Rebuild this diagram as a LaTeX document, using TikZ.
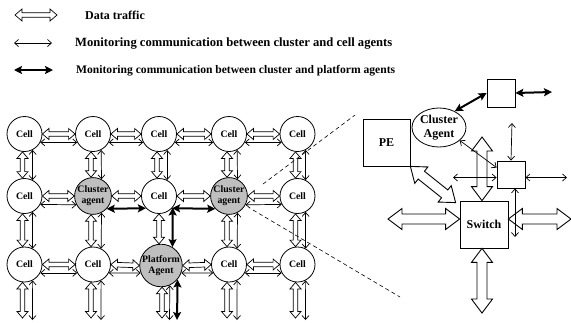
\documentclass[tikz,border=0pt]{standalone}
\usepackage{fontspec}
\setmainfont{Liberation Serif}
\usetikzlibrary{arrows.meta,calc,shapes.geometric}
\definecolor{agentgray}{gray}{0.75}
\newcommand\gridfont{\bfseries\fontsize{9.8}{11}\selectfont}
\newcommand\detfont{\bfseries\fontsize{12}{14.3}\selectfont}
% hollow (data traffic) arrow: [style] A B halfshaft halfhead headlength
\newcommand\holarrow[6][holg]{%
  \coordinate (hA) at (#2);
  \coordinate (hB) at (#3);
  \draw[#1] (hA)
    -- ($(hA)!#6!(hB)!#5!90:(hB)$)
    -- ($(hA)!#6!(hB)!#4!90:(hB)$)
    -- ($(hB)!#6!(hA)!#4!-90:(hA)$)
    -- ($(hB)!#6!(hA)!#5!-90:(hA)$)
    -- (hB)
    -- ($(hB)!#6!(hA)!#5!90:(hA)$)
    -- ($(hB)!#6!(hA)!#4!90:(hA)$)
    -- ($(hA)!#6!(hB)!#4!-90:(hB)$)
    -- ($(hA)!#6!(hB)!#5!-90:(hB)$)
    -- cycle;
}
\newcommand\gh[2]{\holarrow{#1.east}{#2.west}{2.3pt}{5.5pt}{6.5pt}}
\newcommand\gv[2]{\holarrow{$(#1.south)+(-2,0)$}{$(#2.north)+(-2,0)$}{2.3pt}{5.5pt}{6.5pt}}
\begin{document}
\begin{tikzpicture}[x=1pt,y=-1pt,
  cell/.style={circle, draw, line width=0.8pt, fill=white, minimum size=35pt,
    inner sep=0pt, font=\gridfont, align=center},
  agent/.style={cell, fill=agentgray},
  plat/.style={agent, minimum size=42pt},
  holg/.style={draw, line width=0.7pt, fill=white, line join=miter},
  holbig/.style={draw, line width=0.9pt, fill=white, line join=miter},
  thinarr/.style={line width=0.7pt,
    {Straight Barb[length=4pt,width=7pt]}-{Straight Barb[length=4pt,width=7pt]}},
  boldarr/.style={line width=2pt,
    {Stealth[length=8pt,width=8pt,inset=1.5pt]}-{Stealth[length=8pt,width=8pt,inset=1.5pt]}},
  lbl/.style={anchor=west, inner sep=0pt},
  box/.style={draw, line width=0.8pt, fill=white, inner sep=0pt, font=\detfont},
  dashln/.style={line width=0.6pt, dash pattern=on 4pt off 3pt}]
\useasboundingbox (0,0) rectangle (571,322);

% ---------- legend ----------
\coordinate (l1a) at (15,15);  \coordinate (l1b) at (57,15);
\coordinate (l2a) at (14,43);  \coordinate (l2b) at (52,43);
\coordinate (l3a) at (14,70);  \coordinate (l3b) at (53,70);
\holarrow{l1a}{l1b}{2.3pt}{6pt}{7pt}
\draw[thinarr] (l2a) -- (l2b);
\draw[boldarr] (l3a) -- (l3b);
\node[lbl, font=\bfseries\fontsize{12}{14}\selectfont] (t1) at (85,15) {Data traffic};
\node[lbl, font=\bfseries\fontsize{12.6}{14}\selectfont] (t2) at (75,43.5) {Monitoring communication between cluster and cell agents};
\node[lbl, font=\bfseries\fontsize{11.6}{14}\selectfont] (t3) at (76,71) {Monitoring communication between cluster and platform agents};

% ---------- grid nodes ----------
\node[cell] (c11) at (24.5,134) {Cell};
\node[cell] (c12) at (93,134) {Cell};
\node[cell] (c13) at (159,134) {Cell};
\node[cell] (c14) at (229,134) {Cell};
\node[cell] (c15) at (297.5,134) {Cell};
\node[cell] (c21) at (24.5,196) {Cell};
\node[agent] (c22) at (93,196) {Cluster\\agent};
\node[cell] (c23) at (159,196) {Cell};
\node[agent] (c24) at (229,196) {Cluster\\agent};
\node[cell] (c25) at (297.5,196) {Cell};
\node[cell] (c31) at (24.5,264.5) {Cell};
\node[cell] (c32) at (93,264.5) {Cell};
\node[plat] (c33) at (161,265.5) {Platform\\Agent};
\node[cell] (c34) at (229,264.5) {Cell};
\node[cell] (c35) at (297.5,264.5) {Cell};

% bottom free ends
\coordinate (b1h) at (22.5,318); \coordinate (b1t) at (32.5,320);
\coordinate (b2h) at (91,318);   \coordinate (b2t) at (101,320);
\coordinate (b3h) at (162,318);  \coordinate (b3t) at (169.5,320); \coordinate (b3b) at (177,320);
\coordinate (b4h) at (227,318);  \coordinate (b4t) at (237,320);
\coordinate (b5h) at (295.5,318);\coordinate (b5t) at (305.5,320);

% ---------- grid horizontal ----------
\gh{c11}{c12} \draw[thinarr] (c11.-28) -- (c12.208);
\gh{c12}{c13} \draw[thinarr] (c12.-28) -- (c13.208);
\gh{c13}{c14} \draw[thinarr] (c13.-28) -- (c14.208);
\gh{c14}{c15} \draw[thinarr] (c14.-28) -- (c15.208);
\gh{c21}{c22} \draw[thinarr] (c21.-28) -- (c22.208);
\gh{c22}{c23} \draw[boldarr] (c22.-43) -- (c23.223);
\gh{c23}{c24} \draw[boldarr] (c23.-43) -- (c24.223);
\gh{c24}{c25} \draw[thinarr] (c24.-28) -- (c25.208);
\gh{c31}{c32} \draw[thinarr] (c31.-28) -- (c32.208);
\gh{c32}{c33} \draw[thinarr] (c32.-28) -- (c33.200);
\gh{c33}{c34} \draw[thinarr] (c33.-20) -- (c34.208);
\gh{c34}{c35} \draw[thinarr] (c34.-28) -- (c35.208);

% ---------- grid vertical ----------
\gv{c11}{c21} \draw[thinarr] (c11.-63) -- (c21.63);
\gv{c12}{c22} \draw[thinarr] (c12.-63) -- (c22.63);
\gv{c13}{c23} \draw[thinarr] (c13.-63) -- (c23.63);
\gv{c14}{c24} \draw[thinarr] (c14.-63) -- (c24.63);
\gv{c15}{c25} \draw[thinarr] (c15.-63) -- (c25.63);
\gv{c21}{c31} \draw[thinarr] (c21.-63) -- (c31.63);
\gv{c22}{c32} \draw[thinarr] (c22.-63) -- (c32.63);
\holarrow{c23.south}{$(c33.north)+(-2,0)$}{2.3pt}{5.5pt}{6.5pt}
\draw[boldarr] (c23.-40) -- (c33.58);
\gv{c24}{c34} \draw[thinarr] (c24.-63) -- (c34.63);
\gv{c25}{c35} \draw[thinarr] (c25.-63) -- (c35.63);

% ---------- grid bottom ----------
\holarrow{$(c31.south)+(-2,0)$}{b1h}{2.3pt}{5.5pt}{6.5pt} \draw[thinarr] (c31.-63) -- (b1t);
\holarrow{$(c32.south)+(-2,0)$}{b2h}{2.3pt}{5.5pt}{6.5pt} \draw[thinarr] (c32.-63) -- (b2t);
\holarrow{$(c33.south)+(1,0)$}{b3h}{2.3pt}{5.5pt}{6.5pt}  \draw[thinarr] (c33.-66) -- (b3t);
\draw[boldarr] (c33.-40) -- (b3b);
\holarrow{$(c34.south)+(-2,0)$}{b4h}{2.3pt}{5.5pt}{6.5pt} \draw[thinarr] (c34.-63) -- (b4t);
\holarrow{$(c35.south)+(-2,0)$}{b5h}{2.3pt}{5.5pt}{6.5pt} \draw[thinarr] (c35.-63) -- (b5t);

% ---------- zoom lines ----------
\coordinate (z1a) at (263,184); \coordinate (z1b) at (355,115);
\coordinate (z2a) at (253,210); \coordinate (z2b) at (400,297);
\draw[dashln] (z1a) -- (z1b);
\draw[dashln] (z2a) -- (z2b);

% ---------- detail ----------
\node[box, minimum width=47pt, minimum height=47pt] (pe) at (386.5,142.5) {PE};
\node[ellipse, draw, line width=0.8pt, fill=white, minimum width=54pt, minimum height=39pt,
  inner sep=0pt, align=center, font=\detfont] (ca) at (439,127.5) {Cluster\\Agent};
\node[box, minimum width=28pt, minimum height=28pt] (tb) at (501,93) {};
\node[box, minimum width=28pt, minimum height=27pt] (mb) at (511,174.5) {};
\node[box, minimum width=48pt, minimum height=47pt] (sw) at (484,224.5) {Switch};

\coordinate (up) at (482,137);
\coordinate (lf) at (388,219);
\coordinate (rt) at (571,219);
\coordinate (dn) at (482,313);
\holarrow[holbig]{up}{$(sw.north)+(-2,0)$}{5pt}{10.5pt}{14pt}
\holarrow[holbig]{lf}{$(sw.west)+(0,-5.5)$}{5pt}{10.5pt}{14pt}
\holarrow[holbig]{$(sw.east)+(0,-5.5)$}{rt}{5pt}{10.5pt}{14pt}
\holarrow[holbig]{$(sw.south)+(-2,0)$}{dn}{5pt}{10.5pt}{14pt}
\holarrow[holbig]{pe.south east}{$(sw.north west)+(-4,2)$}{5pt}{10.5pt}{14pt}

\coordinate (bt) at (552,92);
\draw[boldarr] (ca.46) -- (tb.west);
\draw[boldarr] (tb.east) -- (bt);

\coordinate (m1) at (512,123);
\coordinate (m2) at (567,177.5);
\coordinate (m3) at (453,177.5);
\coordinate (m4) at (515,237);
\draw[thinarr] (ca.-32) -- ($(mb.north west)+(0,7)$);
\draw[thinarr] (m1) -- (mb.north);
\draw[thinarr] ($(mb.east)+(0,3)$) -- (m2);
\draw[thinarr] (m3) -- ($(mb.west)+(0,3)$);
\draw[thinarr] ($(mb.south)+(4,0)$) -- (m4);
\end{tikzpicture}
\end{document}
